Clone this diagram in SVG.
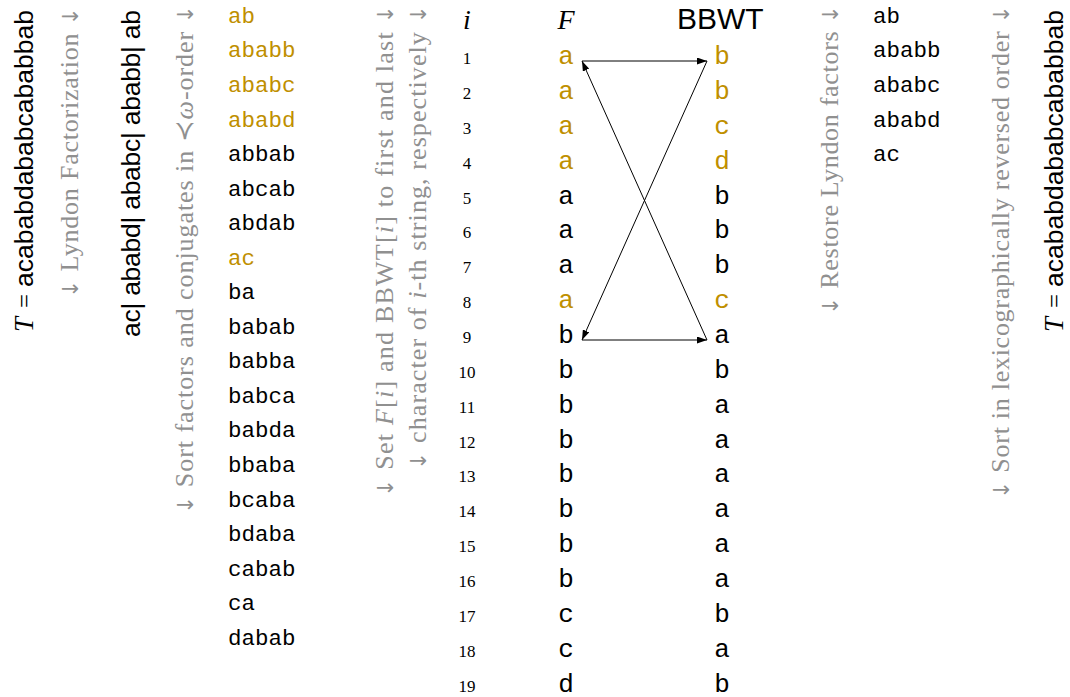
<svg xmlns="http://www.w3.org/2000/svg" width="1070" height="697" viewBox="0 0 1070 697">
<defs>
<style>
.g{font-family:"Liberation Serif",serif;font-size:26px;fill:#909090}
.ar{font-family:"DejaVu Sans",sans-serif;font-size:22px}
.it{font-style:italic}
.mi{font-family:"Liberation Serif",serif;font-style:italic;font-size:27px;fill:#000}
.eq{font-family:"Liberation Serif",serif;font-size:25px;fill:#000}
.sf{font-family:"Liberation Sans",sans-serif;font-size:26.5px;fill:#000}
.tt{font-family:"Liberation Mono",monospace;font-size:22.5px;fill:#000}
.ft{font-family:"Liberation Mono",monospace;font-size:26px;fill:#000;text-anchor:middle}
.gold{fill:#bf8f00}
.num{font-family:"Liberation Serif",serif;font-size:17px;fill:#000;text-anchor:middle}
.hdi{font-family:"Liberation Serif",serif;font-style:italic;font-size:28px;fill:#000;text-anchor:middle}
.hds{font-family:"Liberation Sans",sans-serif;font-size:30px;fill:#000}
.arr{stroke:#000;stroke-width:1;fill:none;marker-end:url(#ah)}
</style>
<marker id="ah" markerWidth="10" markerHeight="7" refX="10" refY="3.5" orient="auto" markerUnits="userSpaceOnUse"><path d="M0,0 L10,3.5 L0,7 z" fill="#000"/></marker>
</defs>
<rect width="1070" height="697" fill="#fff"/>

<g id="input-T">
<text class="mi" transform="translate(33,332) rotate(-90)">T</text>
<text class="eq" transform="translate(33,308) rotate(-90)">=</text>
<text class="sf" transform="translate(33,287) rotate(-90)" textLength="277" lengthAdjust="spacing">acababdababcababbab</text>
</g>

<g id="step-lyndon">
<text class="g" transform="translate(78,298) rotate(-90)" textLength="291" lengthAdjust="spacing"><tspan class="ar">↓</tspan> Lyndon Factorization <tspan class="ar">↓</tspan></text>
</g>

<g id="factors">
<text class="sf" transform="translate(140,337) rotate(-90)" textLength="327" lengthAdjust="spacing">ac| ababd| ababc| ababb| ab</text>
</g>

<g id="step-sort">
<text class="g" transform="translate(193,514) rotate(-90)" textLength="509" lengthAdjust="spacing"><tspan class="ar">↓</tspan> Sort factors and conjugates in ≺<tspan class="it">ω</tspan>-order <tspan class="ar">↓</tspan></text>
</g>

<g id="sorted-conjugates" class="tt">
<text x="228" y="22.8" class="gold">ab</text>
<text x="228" y="57.4" class="gold">ababb</text>
<text x="228" y="91.9" class="gold">ababc</text>
<text x="228" y="126.5" class="gold">ababd</text>
<text x="228" y="161">abbab</text>
<text x="228" y="195.6">abcab</text>
<text x="228" y="230.1">abdab</text>
<text x="228" y="264.7" class="gold">ac</text>
<text x="228" y="299.2">ba</text>
<text x="228" y="333.8">babab</text>
<text x="228" y="368.3">babba</text>
<text x="228" y="402.9">babca</text>
<text x="228" y="437.4">babda</text>
<text x="228" y="472">bbaba</text>
<text x="228" y="506.5">bcaba</text>
<text x="228" y="541.1">bdaba</text>
<text x="228" y="575.6">cabab</text>
<text x="228" y="610.2">ca</text>
<text x="228" y="644.7">dabab</text>
</g>

<g id="step-set">
<text class="g" transform="translate(393,497) rotate(-90)" textLength="492" lengthAdjust="spacing"><tspan class="ar">↓</tspan> Set <tspan class="it">F</tspan>[<tspan class="it">i</tspan>] and BBWT[<tspan class="it">i</tspan>] to first and last <tspan class="ar">↓</tspan></text>
<text class="g" transform="translate(426,470) rotate(-90)" textLength="465" lengthAdjust="spacing"><tspan class="ar">↓</tspan> character of <tspan class="it">i</tspan>-th string, respectively <tspan class="ar">↓</tspan></text>
</g>

<g id="index-column">
<text class="hdi" x="467" y="29">i</text>
<text class="num" x="467" y="64">1</text>
<text class="num" x="467" y="98.9">2</text>
<text class="num" x="467" y="133.7">3</text>
<text class="num" x="467" y="168.6">4</text>
<text class="num" x="467" y="203.5">5</text>
<text class="num" x="467" y="238.4">6</text>
<text class="num" x="467" y="273.2">7</text>
<text class="num" x="467" y="308.1">8</text>
<text class="num" x="467" y="343">9</text>
<text class="num" x="467" y="377.8">10</text>
<text class="num" x="467" y="412.7">11</text>
<text class="num" x="467" y="447.6">12</text>
<text class="num" x="467" y="482.4">13</text>
<text class="num" x="467" y="517.3">14</text>
<text class="num" x="467" y="552.2">15</text>
<text class="num" x="467" y="587.1">16</text>
<text class="num" x="467" y="621.9">17</text>
<text class="num" x="467" y="656.8">18</text>
<text class="num" x="467" y="691.7">19</text>
</g>

<g id="F-column">
<text class="hdi" x="566" y="29">F</text>
<text class="ft gold" x="566" y="64">a</text>
<text class="ft gold" x="566" y="98.9">a</text>
<text class="ft gold" x="566" y="133.7">a</text>
<text class="ft gold" x="566" y="168.6">a</text>
<text class="ft" x="566" y="203.5">a</text>
<text class="ft" x="566" y="238.4">a</text>
<text class="ft" x="566" y="273.2">a</text>
<text class="ft gold" x="566" y="308.1">a</text>
<text class="ft" x="566" y="343">b</text>
<text class="ft" x="566" y="377.8">b</text>
<text class="ft" x="566" y="412.7">b</text>
<text class="ft" x="566" y="447.6">b</text>
<text class="ft" x="566" y="482.4">b</text>
<text class="ft" x="566" y="517.3">b</text>
<text class="ft" x="566" y="552.2">b</text>
<text class="ft" x="566" y="587.1">b</text>
<text class="ft" x="566" y="621.9">c</text>
<text class="ft" x="566" y="656.8">c</text>
<text class="ft" x="566" y="691.7">d</text>
</g>

<g id="BBWT-column">
<text class="hds" x="677" y="29">BBWT</text>
<text class="ft gold" x="722" y="64">b</text>
<text class="ft gold" x="722" y="98.9">b</text>
<text class="ft gold" x="722" y="133.7">c</text>
<text class="ft gold" x="722" y="168.6">d</text>
<text class="ft" x="722" y="203.5">b</text>
<text class="ft" x="722" y="238.4">b</text>
<text class="ft" x="722" y="273.2">b</text>
<text class="ft gold" x="722" y="308.1">c</text>
<text class="ft" x="722" y="343">a</text>
<text class="ft" x="722" y="377.8">b</text>
<text class="ft" x="722" y="412.7">a</text>
<text class="ft" x="722" y="447.6">a</text>
<text class="ft" x="722" y="482.4">a</text>
<text class="ft" x="722" y="517.3">a</text>
<text class="ft" x="722" y="552.2">a</text>
<text class="ft" x="722" y="587.1">a</text>
<text class="ft" x="722" y="621.9">b</text>
<text class="ft" x="722" y="656.8">a</text>
<text class="ft" x="722" y="691.7">b</text>
</g>

<g id="connectors">
<line class="arr" x1="582" y1="61" x2="707" y2="61"/>
<line class="arr" x1="707" y1="61" x2="582" y2="340"/>
<line class="arr" x1="582" y1="340" x2="707" y2="340"/>
<line class="arr" x1="707" y1="340" x2="582" y2="61"/>
</g>

<g id="step-restore">
<text class="g" transform="translate(838,315) rotate(-90)" textLength="310" lengthAdjust="spacing"><tspan class="ar">↓</tspan> Restore Lyndon factors <tspan class="ar">↓</tspan></text>
</g>

<g id="restored-factors" class="tt">
<text x="873" y="22.8">ab</text>
<text x="873" y="57.4">ababb</text>
<text x="873" y="91.9">ababc</text>
<text x="873" y="126.5">ababd</text>
<text x="873" y="161">ac</text>
</g>

<g id="step-reverse">
<text class="g" transform="translate(1009,499) rotate(-90)" textLength="494" lengthAdjust="spacing"><tspan class="ar">↓</tspan> Sort in lexicographically reversed order <tspan class="ar">↓</tspan></text>
</g>

<g id="output-T">
<text class="mi" transform="translate(1063,332) rotate(-90)">T</text>
<text class="eq" transform="translate(1063,308) rotate(-90)">=</text>
<text class="sf" transform="translate(1063,287) rotate(-90)" textLength="277" lengthAdjust="spacing">acababdababcababbab</text>
</g>
</svg>
